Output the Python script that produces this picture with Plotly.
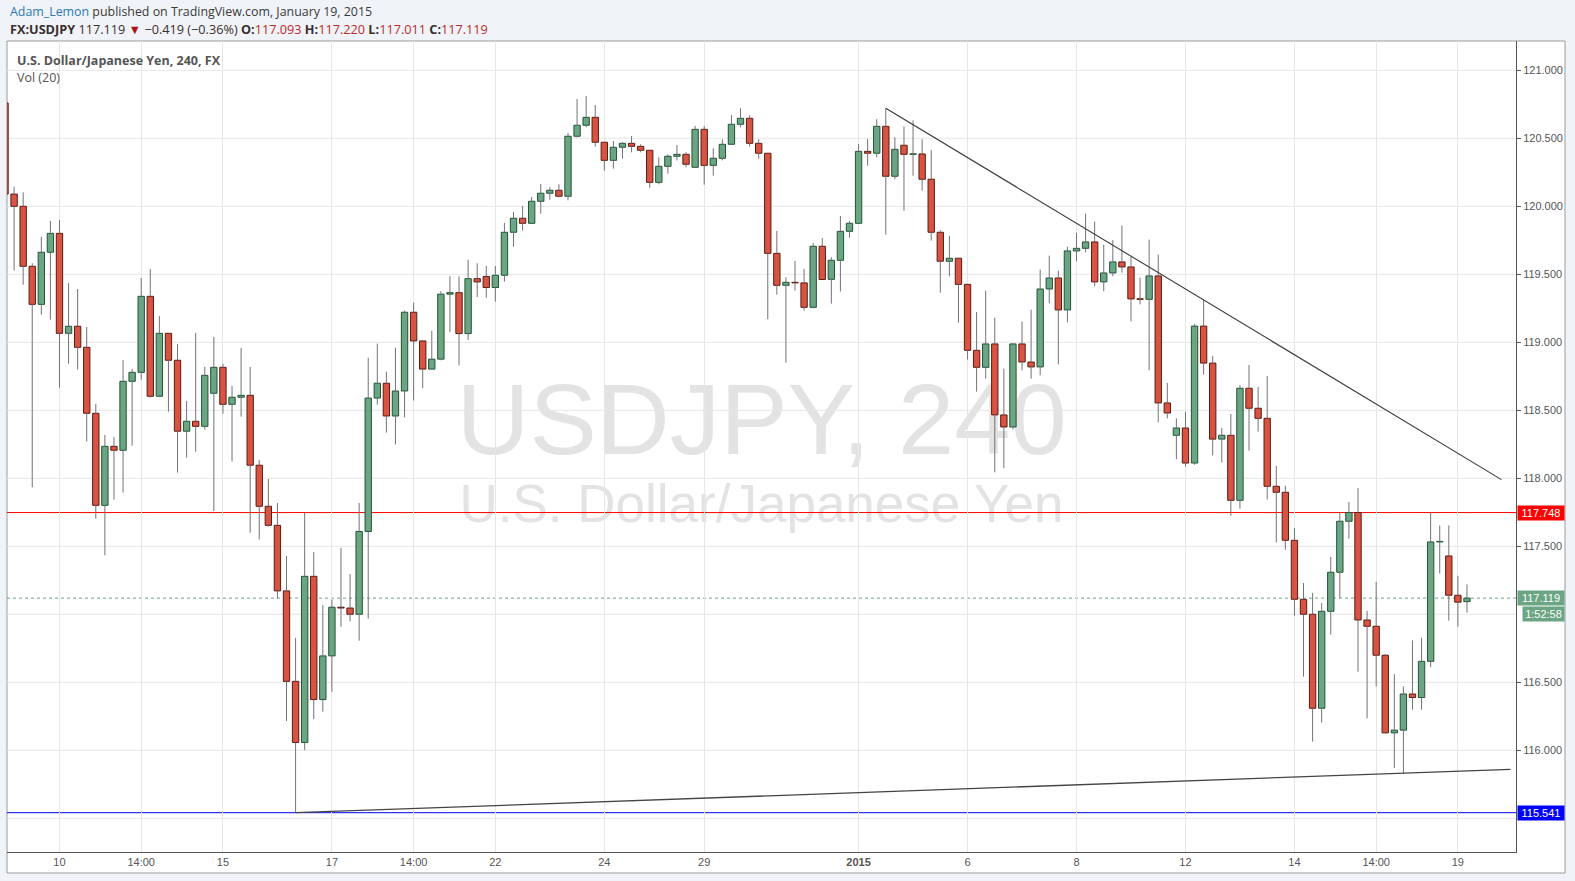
import plotly.graph_objects as go

# ---------------- data (4h candles, index = bar number, 0 = "10") ----------------
bar_index = list(range(-6, 156))

open_ = [
    120.76, 120.09, 120.00, 119.559, 119.279, 119.662, 119.801, 119.066, 119.118, 118.963,
    118.478, 117.801, 118.235, 118.206, 118.713, 118.779, 119.338, 118.603, 119.066, 118.868,
    118.346, 118.419, 118.382, 118.625, 118.816, 118.544, 118.596, 118.610, 118.096, 117.794,
    117.654, 117.172, 116.507, 116.057, 117.279, 116.373, 116.694, 117.052, 117.046, 117.000,
    117.609, 118.590, 118.699, 118.458, 118.642, 119.221, 119.010, 118.803, 118.876, 119.354,
    119.365, 119.064, 119.468, 119.484, 119.403, 119.493, 119.809, 119.912, 119.875, 120.037,
    120.096, 120.118, 120.074, 120.515, 120.596, 120.654, 120.471, 120.338, 120.434, 120.463,
    120.441, 120.412, 120.176, 120.294, 120.368, 120.382, 120.287, 120.566, 120.301, 120.353,
    120.456, 120.603, 120.647, 120.463, 120.390, 119.654, 119.419, 119.441, 119.437, 119.257,
    119.706, 119.463, 119.603, 119.816, 119.875, 120.404, 120.390, 120.588, 120.221, 120.449,
    120.382, 120.385, 120.199, 119.809, 119.596, 119.618, 119.426, 118.941, 118.816, 118.988,
    118.466, 118.377, 118.988, 118.855, 118.819, 119.392, 119.473, 119.238, 119.672, 119.691,
    119.738, 119.444, 119.510, 119.591, 119.554, 119.319, 119.316, 119.488, 118.554, 118.316,
    118.370, 118.112, 119.119, 118.847, 118.288, 118.316, 117.838, 118.662, 118.515, 118.441,
    117.941, 117.897, 117.544, 117.110, 117.000, 116.309, 117.022, 117.309, 117.684, 117.748,
    116.958, 116.912, 116.699, 116.128, 116.148, 116.414, 116.388, 116.654, 117.532, 117.429,
    117.140, 117.093,
]
high = [
    120.80, 120.145, 120.103, 119.581, 119.775, 119.892, 119.900, 119.436, 119.392, 119.113,
    118.547, 118.319, 118.304, 118.870, 118.804, 119.473, 119.539, 119.194, 119.066, 118.988,
    118.569, 119.069, 118.819, 119.039, 118.841, 118.679, 118.958, 118.819, 118.134, 117.995,
    117.818, 117.428, 116.826, 117.748, 117.458, 117.067, 117.109, 117.488, 117.296, 117.818,
    118.886, 118.990, 118.784, 118.960, 119.234, 119.291, 119.010, 119.085, 119.376, 119.485,
    119.485, 119.608, 119.581, 119.561, 119.561, 119.877, 119.958, 120.002, 120.069, 120.164,
    120.140, 120.162, 120.539, 120.789, 120.811, 120.745, 120.471, 120.480, 120.471, 120.517,
    120.456, 120.412, 120.360, 120.382, 120.451, 120.397, 120.591, 120.591, 120.426, 120.493,
    120.672, 120.721, 120.669, 120.493, 120.390, 119.819, 119.478, 119.598, 119.539, 119.730,
    119.767, 119.625, 119.929, 119.892, 120.458, 120.495, 120.640, 120.721, 120.507, 120.588,
    120.632, 120.493, 120.414, 119.824, 119.782, 119.618, 119.426, 119.223, 119.380, 119.181,
    118.806, 118.993, 119.152, 119.240, 119.534, 119.637, 119.527, 119.703, 119.806, 119.946,
    119.887, 119.718, 119.752, 119.858, 119.627, 119.475, 119.755, 119.645, 118.701, 118.440,
    118.490, 119.135, 119.311, 118.900, 118.370, 118.473, 118.686, 118.833, 118.672, 118.752,
    118.091, 117.946, 117.635, 117.230, 117.157, 117.083, 117.422, 117.752, 117.826, 117.929,
    117.025, 117.238, 116.708, 116.560, 116.470, 116.808, 116.827, 117.748, 117.653, 117.653,
    117.283, 117.220,
]
low = [
    120.05, 119.527, 119.424, 117.934, 119.203, 119.167, 118.667, 118.843, 118.799, 118.270,
    117.703, 117.434, 117.843, 117.895, 118.240, 118.725, 118.593, 118.600, 118.490, 118.042,
    118.152, 118.196, 118.358, 117.760, 118.475, 118.123, 118.453, 117.600, 117.550, 117.644,
    117.117, 116.216, 115.541, 116.000, 116.229, 116.284, 116.430, 116.908, 116.948, 116.806,
    116.968, 118.542, 118.336, 118.249, 118.448, 118.572, 118.662, 118.803, 118.868, 119.076,
    118.830, 119.017, 119.333, 119.327, 119.299, 119.446, 119.703, 119.821, 119.875, 119.946,
    120.049, 120.066, 120.044, 120.507, 120.581, 120.439, 120.262, 120.277, 120.350, 120.397,
    120.397, 120.137, 120.162, 120.240, 120.338, 120.287, 120.287, 120.159, 120.225, 120.338,
    120.456, 120.581, 120.439, 120.350, 119.169, 119.350, 118.850, 119.380, 119.233, 119.250,
    119.463, 119.284, 119.373, 119.770, 119.875, 120.299, 120.360, 119.792, 120.199, 119.968,
    120.225, 120.115, 119.748, 119.365, 119.485, 119.145, 118.873, 118.637, 118.733, 118.044,
    118.074, 118.360, 118.794, 118.733, 118.757, 119.287, 118.838, 119.147, 119.596, 119.662,
    119.412, 119.375, 119.485, 119.512, 119.154, 119.279, 118.794, 118.412, 118.441, 118.140,
    118.087, 118.100, 118.762, 118.168, 118.115, 117.725, 117.777, 118.203, 118.343, 117.843,
    117.529, 117.475, 116.990, 116.542, 116.064, 116.203, 116.850, 117.120, 117.556, 116.578,
    116.235, 116.471, 116.125, 115.870, 115.830, 116.299, 116.299, 116.611, 117.300, 116.953,
    116.909, 117.011,
]
close = [
    120.09, 120.00, 119.559, 119.279, 119.662, 119.801, 119.066, 119.118, 118.963, 118.478,
    117.801, 118.235, 118.206, 118.713, 118.779, 119.338, 118.603, 119.066, 118.868, 118.346,
    118.419, 118.382, 118.757, 118.816, 118.544, 118.596, 118.610, 118.096, 117.794, 117.654,
    117.172, 116.507, 116.057, 117.279, 116.373, 116.694, 117.052, 117.046, 117.000, 117.609,
    118.590, 118.699, 118.458, 118.642, 119.221, 119.010, 118.803, 118.876, 119.354, 119.365,
    119.064, 119.468, 119.444, 119.403, 119.493, 119.809, 119.912, 119.875, 120.037, 120.096,
    120.118, 120.074, 120.515, 120.596, 120.654, 120.471, 120.338, 120.434, 120.463, 120.441,
    120.412, 120.176, 120.294, 120.368, 120.382, 120.309, 120.566, 120.301, 120.353, 120.456,
    120.603, 120.647, 120.463, 120.390, 119.654, 119.419, 119.441, 119.437, 119.257, 119.706,
    119.462, 119.603, 119.816, 119.875, 120.404, 120.390, 120.588, 120.221, 120.419, 120.382,
    120.385, 120.199, 119.809, 119.596, 119.618, 119.426, 118.941, 118.816, 118.988, 118.466,
    118.377, 118.988, 118.855, 118.819, 119.392, 119.473, 119.238, 119.672, 119.691, 119.738,
    119.444, 119.510, 119.591, 119.554, 119.319, 119.316, 119.488, 118.554, 118.480, 118.370,
    118.112, 119.119, 118.847, 118.288, 118.316, 117.838, 118.662, 118.515, 118.441, 117.941,
    117.897, 117.544, 117.110, 117.000, 116.309, 117.022, 117.309, 117.684, 117.748, 116.958,
    116.912, 116.699, 116.128, 116.148, 116.414, 116.388, 116.654, 117.532, 117.535, 117.140,
    117.089, 117.119,
]

tick_positions = [0, 9, 18, 30, 39, 48, 60, 71, 88, 100, 112, 124, 136, 145, 154]
tick_labels = ["10", "14:00", "15", "17", "14:00", "22", "24", "29", "<b>2015</b>",
               "6", "8", "12", "14", "14:00", "19"]
# price labels shown on the axis (115.500 and 117.000 are hidden behind the price tags)
price_ticks = [116.0, 116.5, 117.5, 118.0, 118.5, 119.0, 119.5, 120.0, 120.5, 121.0]
price_grid = [115.5, 116.0, 116.5, 117.0, 117.5, 118.0, 118.5, 119.0, 119.5, 120.0, 120.5, 121.0]

resistance_level = 117.748
support_level = 115.541
last_price = 117.119
countdown_text = "1:52:58"

down_trend_x = [91, 158.8]
down_trend_y = [120.721, 117.99]
up_trend_x = [26, 159.8]
up_trend_y = [115.541, 115.86]

# ---------------- styling ----------------
W, H = 1575, 881
L, T, R, B = 7, 41, 1516, 852
PW, PH = R - L, B - T
X_RANGE = [-5.78, 160.4]
Y_RANGE = [115.252, 121.2155]

GREEN_FILL, GREEN_EDGE = "#6ba583", "#225437"
RED_FILL, RED_EDGE = "#d75442", "#5b1a13"
WICK = "#737375"
GRID = "#e6e6e6"
FONT = "Liberation Sans, Arial, sans-serif"
HFONT = "Open Sans, sans-serif"
PAGE_BG = "#f0f3f7"


def px(x):
    return (x - L) / PW


def py(y):
    return 1 - (y - T) / PH


up = [c > o for o, c in zip(open_, close)]
body_base = [min(o, c) for o, c in zip(open_, close)]
body_h = [max(abs(c - o), 0.004) for o, c in zip(open_, close)]
fills = [GREEN_FILL if u else RED_FILL for u in up]
edges = [GREEN_EDGE if u else RED_EDGE for u in up]

wx, wy = [], []
for i, o, h, l, c in zip(bar_index, open_, high, low, close):
    top, bot = max(o, c), min(o, c)
    if h > top:
        wx += [i, i, None]
        wy += [top, h, None]
    if l < bot:
        wx += [i, i, None]
        wy += [l, bot, None]

fig = go.Figure()
fig.add_trace(go.Bar(
    x=bar_index, y=body_h, base=body_base, width=0.7,
    marker=dict(color=fills, line=dict(color=edges, width=1)),
    hoverinfo="skip", showlegend=False,
))
fig.add_trace(go.Scatter(
    x=wx, y=wy, mode="lines", line=dict(color=WICK, width=1),
    hoverinfo="skip", showlegend=False,
))
fig.add_trace(go.Scatter(
    x=down_trend_x, y=down_trend_y, mode="lines",
    line=dict(color="#3a3a3a", width=1.1), hoverinfo="skip", showlegend=False,
))
fig.add_trace(go.Scatter(
    x=up_trend_x, y=up_trend_y, mode="lines",
    line=dict(color="#444444", width=1.3), hoverinfo="skip", showlegend=False,
))

shapes = [
    # chart frame
    dict(type="rect", xref="paper", yref="paper", x0=px(7), x1=px(1565),
         y0=py(873), y1=py(41), fillcolor="white",
         line=dict(color="#9a9a9a", width=1), layer="below"),
    # watermarks
    dict(type="rect", xref="paper", yref="paper", x0=0.2, x1=0.8,
         y0=py(455), y1=py(362), fillcolor="rgba(0,0,0,0)", line=dict(width=0),
         layer="below",
         label=dict(text="USDJPY, 240", font=dict(size=101, color="#e3e3e3", family=FONT),
                    textposition="middle center")),
    dict(type="rect", xref="paper", yref="paper", x0=0.2, x1=0.8,
         y0=py(523), y1=py(473), fillcolor="rgba(0,0,0,0)", line=dict(width=0),
         layer="below",
         label=dict(text="U.S. Dollar/Japanese Yen", font=dict(size=53, color="#e3e3e3", family=FONT),
                    textposition="middle center")),
]
# horizontal grid lines
for g in price_grid:
    shapes.append(dict(type="line", xref="paper", yref="y", x0=0, x1=1, y0=g, y1=g,
                       line=dict(color=GRID, width=1), layer="below"))
# horizontal levels
shapes += [
    dict(type="line", xref="paper", yref="y", x0=0, x1=1, y0=resistance_level, y1=resistance_level,
         line=dict(color="#ff0000", width=1), layer="below"),
    dict(type="line", xref="paper", yref="y", x0=0, x1=1, y0=support_level, y1=support_level,
         line=dict(color="#0000ff", width=1), layer="below"),
    dict(type="line", xref="paper", yref="y", x0=0, x1=1, y0=last_price, y1=last_price,
         line=dict(color="#6ba583", width=1, dash="dot"), layer="below"),
]

annotations = [
    dict(xref="paper", yref="paper", x=px(8), y=py(11), xanchor="left", yanchor="middle",
         showarrow=False, align="left",
         text="<span style='color:#2a7ab8'>Adam_Lemon</span> published on TradingView.com, January 19, 2015",
         font=dict(family=HFONT, size=12.4, color="#3a3a3a")),
    dict(xref="paper", yref="paper", x=px(8), y=py(29), xanchor="left", yanchor="middle",
         showarrow=False, align="left",
         text=("<b>FX:USDJPY</b> 117.119 <span style='color:#b01010'>▼</span> −0.419 (−0.36%) "
               "<b>O:</b><span style='color:#bd2a2a'>117.093</span> "
               "<b>H:</b><span style='color:#bd2a2a'>117.220</span> "
               "<b>L:</b><span style='color:#bd2a2a'>117.011</span> "
               "<b>C:</b><span style='color:#bd2a2a'>117.119</span>"),
         font=dict(family=HFONT, size=12.7, color="#3b2e2e")),
    dict(xref="paper", yref="paper", x=px(15), y=py(60), xanchor="left", yanchor="middle",
         showarrow=False, text="<b>U.S. Dollar/Japanese Yen, 240, FX</b>",
         font=dict(family=HFONT, size=12.5, color="#555555")),
    dict(xref="paper", yref="paper", x=px(15), y=py(77), xanchor="left", yanchor="middle",
         showarrow=False, text="Vol (20)",
         font=dict(family=HFONT, size=12.5, color="#555555")),
]


def price_tag(value, text, color, yshift=0, xshift=1, width=44):
    return dict(xref="paper", yref="y", x=1, y=value, xanchor="left", yanchor="middle",
                xshift=xshift, yshift=yshift, showarrow=False, text=text,
                bgcolor=color, borderpad=1, width=width, height=12, align="center",
                font=dict(family=FONT, size=11, color="white"))


annotations += [
    price_tag(resistance_level, f"{resistance_level:.3f}", "#ff0000"),
    price_tag(support_level, f"{support_level:.3f}", "#0000ff"),
    price_tag(last_price, f"{last_price:.3f}", "#6ba583"),
    price_tag(last_price, countdown_text, "#6ba583", yshift=-16, xshift=6, width=39),
]

fig.update_layout(
    width=W, height=H,
    margin=dict(l=L, r=W - R, t=T, b=H - B, pad=0),
    paper_bgcolor=PAGE_BG, plot_bgcolor="white",
    barmode="overlay", showlegend=False,
    shapes=shapes, annotations=annotations,
    xaxis=dict(range=X_RANGE, tickmode="array", tickvals=tick_positions, ticktext=tick_labels,
               showgrid=True, gridcolor=GRID, gridwidth=1, zeroline=False,
               showline=True, linecolor="#555555", linewidth=1, ticks="",
               tickfont=dict(family=FONT, size=11, color="#555555"), fixedrange=True),
    yaxis=dict(range=Y_RANGE, side="right", tickmode="array", tickvals=price_ticks,
               tickformat=".3f", showgrid=False, zeroline=False,
               showline=True, linecolor="#555555", linewidth=1,
               ticks="outside", ticklen=4, tickcolor="#555555",
               tickfont=dict(family=FONT, size=11, color="#555555"), fixedrange=True),
)

fig.write_html(
    "out.html",
    config={"displayModeBar": False},
    post_script=f"document.body.style.margin='0';document.body.style.background='{PAGE_BG}';",
)
